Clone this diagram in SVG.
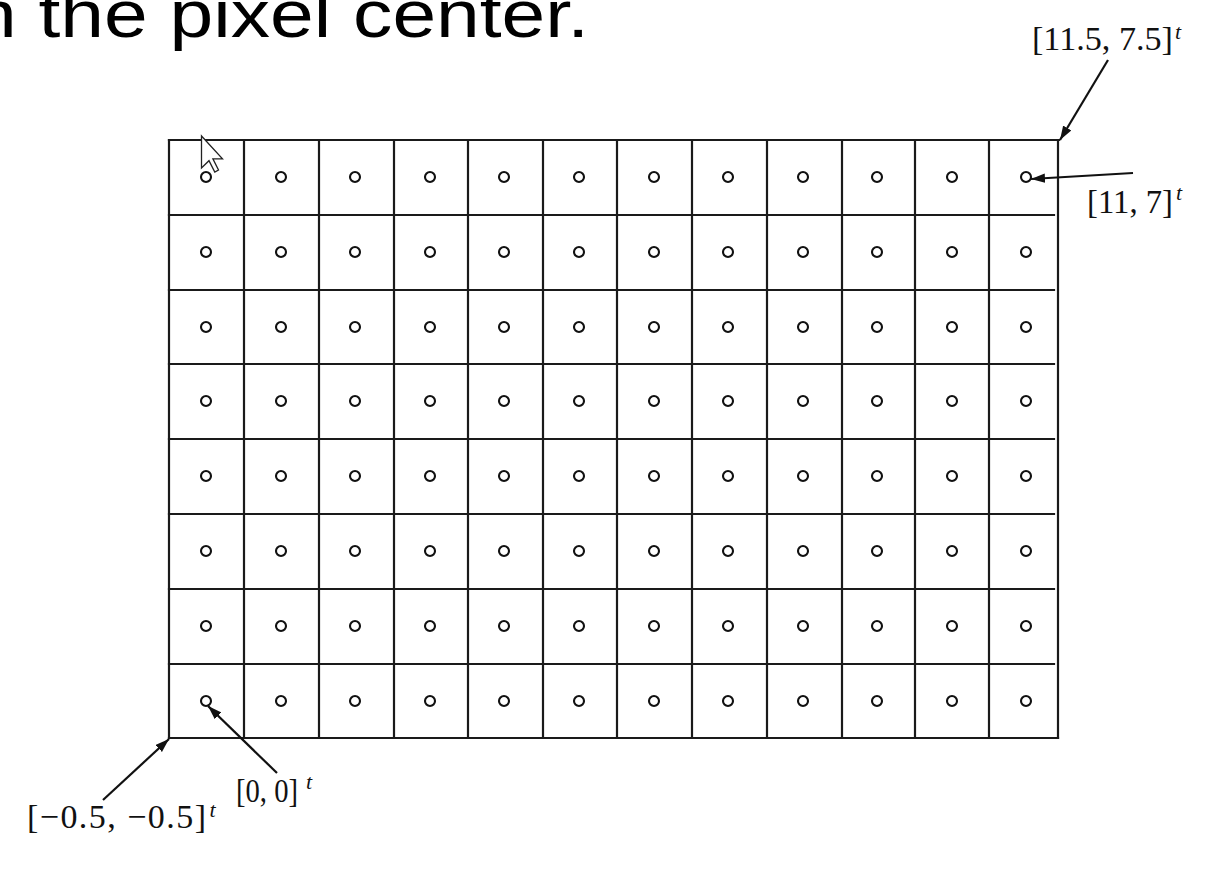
<svg xmlns="http://www.w3.org/2000/svg" width="1226" height="886" viewBox="0 0 1226 886">
<defs>
<style>
.ln{stroke:#1a1a1a;stroke-width:2.2;fill:none;stroke-linecap:square}
.dot{fill:#fff;stroke:#111;stroke-width:2.1}
.lab{font-family:"Liberation Serif","DejaVu Serif",serif;font-size:34px;fill:#111}
.sup{font-style:italic;font-size:22px}
.arr{stroke:#111;stroke-width:2.2;fill:none;marker-end:url(#ah)}
.title{font-family:"Liberation Sans",Arial,sans-serif;font-size:67px;fill:#000}
</style>
<marker id="ah" markerUnits="userSpaceOnUse" markerWidth="15" markerHeight="10" refX="14" refY="4.75" orient="auto">
<path d="M0,0 L14,4.75 L0,9.5 z" fill="#111"/>
</marker>
<circle id="c" r="5" class="dot"/>
</defs>
<rect width="1226" height="886" fill="#fff"/>
<text class="title" x="-27" y="37" textLength="616" lengthAdjust="spacingAndGlyphs">n the pixel center.</text>

<g id="grid">
<g id="grid-lines">
<line class="ln" x1="169" y1="140" x2="1059" y2="140"/>
<line class="ln" x1="169" y1="738" x2="1058" y2="738"/>
<line class="ln" x1="169" y1="140" x2="169" y2="738"/>
<line class="ln" x1="1058" y1="140" x2="1058" y2="738"/>
<line class="ln" x1="244" y1="140" x2="244" y2="738"/>
<line class="ln" x1="319" y1="140" x2="319" y2="738"/>
<line class="ln" x1="394" y1="140" x2="394" y2="738"/>
<line class="ln" x1="468" y1="140" x2="468" y2="738"/>
<line class="ln" x1="543" y1="140" x2="543" y2="738"/>
<line class="ln" x1="617" y1="140" x2="617" y2="738"/>
<line class="ln" x1="692" y1="140" x2="692" y2="738"/>
<line class="ln" x1="767" y1="140" x2="767" y2="738"/>
<line class="ln" x1="842" y1="140" x2="842" y2="738"/>
<line class="ln" x1="915" y1="140" x2="915" y2="738"/>
<line class="ln" x1="989" y1="140" x2="989" y2="738"/>
<line class="ln" x1="169" y1="215" x2="1054" y2="215"/>
<line class="ln" x1="169" y1="290" x2="1054" y2="290"/>
<line class="ln" x1="169" y1="364" x2="1054" y2="364"/>
<line class="ln" x1="169" y1="439" x2="1054" y2="439"/>
<line class="ln" x1="169" y1="514" x2="1054" y2="514"/>
<line class="ln" x1="169" y1="589" x2="1054" y2="589"/>
<line class="ln" x1="169" y1="664" x2="1054" y2="664"/>
</g>
<g id="pixel-centers">
<g transform="translate(0,177)"><use href="#c" x="206"/><use href="#c" x="281"/><use href="#c" x="355"/><use href="#c" x="430"/><use href="#c" x="504"/><use href="#c" x="579"/><use href="#c" x="654"/><use href="#c" x="728"/><use href="#c" x="803"/><use href="#c" x="877"/><use href="#c" x="952"/><use href="#c" x="1026"/></g>
<g transform="translate(0,252)"><use href="#c" x="206"/><use href="#c" x="281"/><use href="#c" x="355"/><use href="#c" x="430"/><use href="#c" x="504"/><use href="#c" x="579"/><use href="#c" x="654"/><use href="#c" x="728"/><use href="#c" x="803"/><use href="#c" x="877"/><use href="#c" x="952"/><use href="#c" x="1026"/></g>
<g transform="translate(0,327)"><use href="#c" x="206"/><use href="#c" x="281"/><use href="#c" x="355"/><use href="#c" x="430"/><use href="#c" x="504"/><use href="#c" x="579"/><use href="#c" x="654"/><use href="#c" x="728"/><use href="#c" x="803"/><use href="#c" x="877"/><use href="#c" x="952"/><use href="#c" x="1026"/></g>
<g transform="translate(0,401)"><use href="#c" x="206"/><use href="#c" x="281"/><use href="#c" x="355"/><use href="#c" x="430"/><use href="#c" x="504"/><use href="#c" x="579"/><use href="#c" x="654"/><use href="#c" x="728"/><use href="#c" x="803"/><use href="#c" x="877"/><use href="#c" x="952"/><use href="#c" x="1026"/></g>
<g transform="translate(0,476)"><use href="#c" x="206"/><use href="#c" x="281"/><use href="#c" x="355"/><use href="#c" x="430"/><use href="#c" x="504"/><use href="#c" x="579"/><use href="#c" x="654"/><use href="#c" x="728"/><use href="#c" x="803"/><use href="#c" x="877"/><use href="#c" x="952"/><use href="#c" x="1026"/></g>
<g transform="translate(0,551)"><use href="#c" x="206"/><use href="#c" x="281"/><use href="#c" x="355"/><use href="#c" x="430"/><use href="#c" x="504"/><use href="#c" x="579"/><use href="#c" x="654"/><use href="#c" x="728"/><use href="#c" x="803"/><use href="#c" x="877"/><use href="#c" x="952"/><use href="#c" x="1026"/></g>
<g transform="translate(0,626)"><use href="#c" x="206"/><use href="#c" x="281"/><use href="#c" x="355"/><use href="#c" x="430"/><use href="#c" x="504"/><use href="#c" x="579"/><use href="#c" x="654"/><use href="#c" x="728"/><use href="#c" x="803"/><use href="#c" x="877"/><use href="#c" x="952"/><use href="#c" x="1026"/></g>
<g transform="translate(0,701)"><use href="#c" x="206"/><use href="#c" x="281"/><use href="#c" x="355"/><use href="#c" x="430"/><use href="#c" x="504"/><use href="#c" x="579"/><use href="#c" x="654"/><use href="#c" x="728"/><use href="#c" x="803"/><use href="#c" x="877"/><use href="#c" x="952"/><use href="#c" x="1026"/></g>
</g>
</g>

<g id="cursor">
<polygon points="201.5,136 201.5,168 209,160.7 214.8,172 218.5,170 212.9,158.8 222.5,158.8" fill="#fff" stroke="#222" stroke-width="1.3" stroke-linejoin="miter"/>
</g>

<g id="connectors">
<line class="arr" x1="1108" y1="60" x2="1060" y2="140"/>
<line class="arr" x1="1133" y1="173" x2="1031" y2="179"/>
<line class="arr" x1="103" y1="800" x2="169" y2="739"/>
<line class="arr" x1="277" y1="773" x2="208" y2="706"/>
</g>

<g id="label-top-corner">
<text class="lab" x="1032" y="50"><tspan textLength="141" lengthAdjust="spacingAndGlyphs">[11.5, 7.5]</tspan><tspan class="sup" dx="2" dy="-11">t</tspan></text>
</g>
<g id="label-top-center">
<text class="lab" x="1087" y="213"><tspan textLength="86" lengthAdjust="spacingAndGlyphs">[11, 7]</tspan><tspan class="sup" dx="3" dy="-13">t</tspan></text>
</g>
<g id="label-origin">
<text class="lab" x="236" y="802"><tspan textLength="62" lengthAdjust="spacingAndGlyphs">[0, 0]</tspan><tspan class="sup" dx="8" dy="-13">t</tspan></text>
</g>
<g id="label-bottom-corner">
<text class="lab" x="27" y="828"><tspan textLength="179" lengthAdjust="spacing">[−0.5, −0.5]</tspan><tspan class="sup" dx="2" dy="-11">t</tspan></text>
</g>
</svg>
